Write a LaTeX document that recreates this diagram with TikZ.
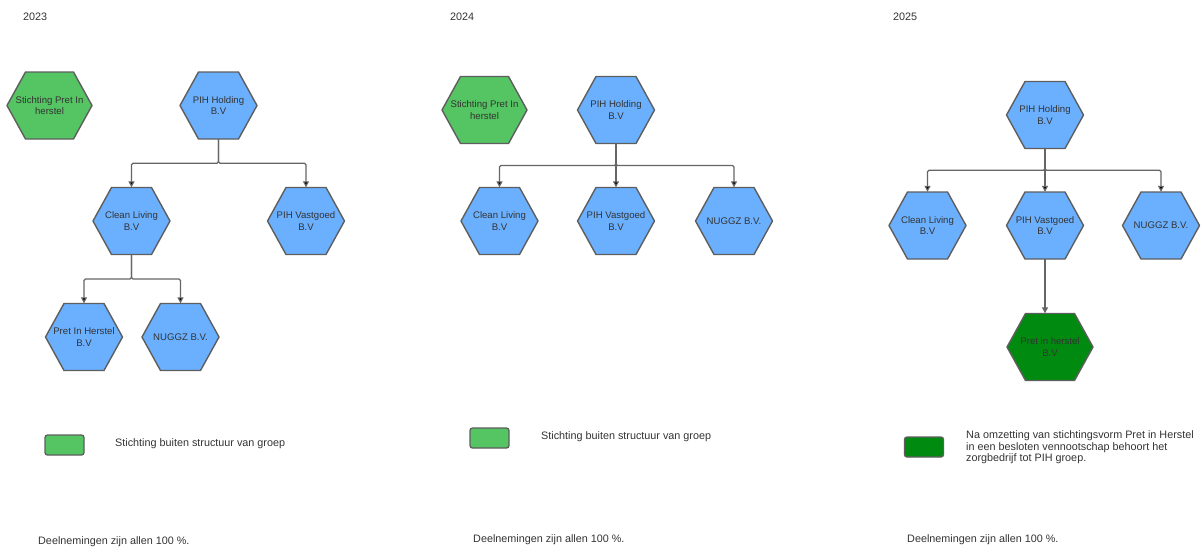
\documentclass[tikz,border=0pt]{standalone}
\usepackage{fontspec}
\setmainfont{Liberation Sans}
\usetikzlibrary{calc,arrows.meta}
\definecolor{hexblueC}{HTML}{6BB0FF}
\definecolor{hexgreenC}{HTML}{55C462}
\definecolor{hexdarkC}{HTML}{008A10}
\definecolor{edgegrey}{HTML}{5E5E5E}
\definecolor{linegrey}{HTML}{666666}
\definecolor{txtgrey}{HTML}{333333}
\tikzset{
  hexshape/.style n args={2}{rectangle, draw=none, inner sep=0pt,
    minimum width=#1+2pt, minimum height=69pt, align=center,
    font=\fontsize{9.6}{11.5}\selectfont, text=txtgrey,
    path picture={\draw[draw=edgegrey, line width=1.4pt, line join=round, fill=#2]
      ($(path picture bounding box.west)+(1pt,0pt)$) --
      ($(path picture bounding box.north west)+(19.5pt,-1pt)$) --
      ($(path picture bounding box.north east)+(-19.5pt,-1pt)$) --
      ($(path picture bounding box.east)+(-1pt,0pt)$) --
      ($(path picture bounding box.south east)+(-19.5pt,1pt)$) --
      ($(path picture bounding box.south west)+(19.5pt,1pt)$) -- cycle;}},
  hexblue/.style={hexshape={77pt}{hexblueC}},
  conn/.style={draw=linegrey, line width=1.1pt, rounded corners=1.5pt},
  arr/.style={-{Triangle[length=6pt,width=6pt]}, shorten >=-1pt, shorten <=-1pt},
  tree/.style={arr, to path={-- ($(\tikztostart)!0.5!(\tikztostart|-\tikztotarget)$) -| (\tikztotarget) \tikztonodes}},
  legbox/.style={rectangle, rounded corners=2.5pt, draw=edgegrey, line width=1.3pt,
    minimum width=39pt, minimum height=20pt, inner sep=0pt},
  note/.style={inner sep=0pt, text=txtgrey, font=\fontsize{10.8}{11.7}\selectfont, align=left}
}
\begin{document}
\begin{tikzpicture}[x=1pt,y=-1pt]
\useasboundingbox[fill=white] (0,0) rectangle (1201,550);

% ---------- year labels ----------
\node[note, anchor=west] (y1) at (23,17) {2023};
\node[note, anchor=west] (y2) at (450,17) {2024};
\node[note, anchor=west] (y3) at (893,17) {2025};

% ---------- 2023 ----------
\node[hexshape={85pt}{hexgreenC}] (st1) at (49.5,105.5) {Stichting Pret In\\herstel};
\node[hexblue] (ph1) at (218.5,105.5) {PIH Holding\\B.V};
\node[hexblue] (cl1) at (131.5,221) {Clean Living\\B.V};
\node[hexblue] (pv1) at (306,221) {PIH Vastgoed\\B.V};
\node[hexblue] (pr1) at (84,337) {Pret In Herstel\\B.V};
\node[hexblue] (ng1) at (180.5,337) {NUGGZ B.V.};

\path[conn] (ph1.south) edge[tree] (cl1.north) edge[tree] (pv1.north);
\path[conn] (cl1.south) edge[tree] (pr1.north) edge[tree] (ng1.north);

\node[legbox, fill=hexgreenC] (lg1) at (64.5,445) {};
\node[note, anchor=west] (lt1) at (115,444) {Stichting buiten structuur van groep};
\node[note, anchor=west] (dn1) at (38,542) {Deelnemingen zijn allen 100 \%.};

% ---------- 2024 ----------
\node[hexshape={85pt}{hexgreenC}] (st2) at (484.5,110) {Stichting Pret In\\herstel};
\node[hexblue] (ph2) at (616,110) {PIH Holding\\B.V};
\node[hexblue] (cl2) at (499.5,221) {Clean Living\\B.V};
\node[hexblue] (pv2) at (616,221) {PIH Vastgoed\\B.V};
\node[hexblue] (ng2) at (734,221) {NUGGZ B.V.};

\path[conn] (ph2.south) edge[tree] (cl2.north) edge[arr] (pv2.north) edge[tree] (ng2.north);

\node[legbox, fill=hexgreenC] (lg2) at (489.5,438) {};
\node[note, anchor=west] (lt2) at (541,437) {Stichting buiten structuur van groep};
\node[note, anchor=west] (dn2) at (473,540) {Deelnemingen zijn allen 100 \%.};

% ---------- 2025 ----------
\node[hexblue] (ph3) at (1045,115) {PIH Holding\\B.V};
\node[hexblue] (cl3) at (927.5,225.5) {Clean Living\\B.V};
\node[hexblue] (pv3) at (1045,225.5) {PIH Vastgoed\\B.V};
\node[hexblue] (ng3) at (1161,225.5) {NUGGZ B.V.};
\node[hexshape={86pt}{hexdarkC}] (pr3) at (1050,347) {Pret in herstel\\B.V};

\path[conn] (ph3.south) edge[tree] (cl3.north) edge[arr] (pv3.north) edge[tree] (ng3.north);
\draw[conn, arr] (pv3.south) -- (pv3.south |- pr3.north);

\node[legbox, fill=hexdarkC] (lg3) at (924,447) {};
\node[note, anchor=north west] (lt3) at (966,430.5) {Na omzetting van stichtingsvorm Pret in Herstel\\in een besloten vennootschap behoort het\\zorgbedrijf tot PIH groep.};
\node[note, anchor=west] (dn3) at (907,540) {Deelnemingen zijn allen 100 \%.};
\end{tikzpicture}
\end{document}
